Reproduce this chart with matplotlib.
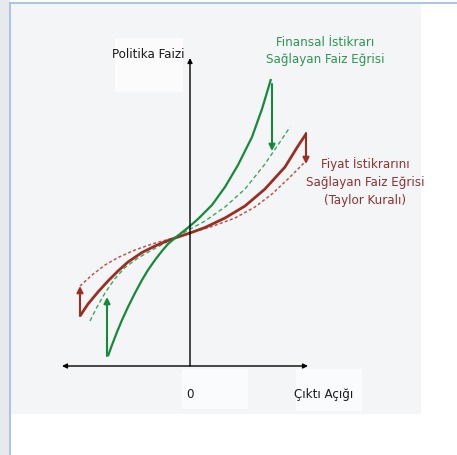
import matplotlib
matplotlib.use("Agg")
import matplotlib.pyplot as plt
from matplotlib.patches import Rectangle

# Data units: x = output gap, y = policy rate
green_x = [-8.2, -7.8, -7.3, -6.8, -6.2, -5.5, -4.8, -4.2, -3.5, -2.8, -2.2,
           -1.5, -0.5, 0.0, 0.8, 2.2, 3.5, 4.8, 6.2, 7.2, 8.1]
green_y = [1.0, 2.1, 3.4, 4.6, 5.9, 7.3, 8.6, 9.6, 10.6, 11.5, 12.2,
           12.8, 13.6, 14.0, 14.7, 16.1, 17.9, 20.1, 22.9, 25.7, 28.7]

green_dash_x = [-10.0, -9.3, -8.5, -7.5, -6.5, -5.2, -3.8, -2.5, -1.5, -0.5,
                1.5, 3.5, 5.5, 7.5, 9.2, 10.0]
green_dash_y = [4.5, 5.9, 7.3, 8.75, 9.85, 10.8, 11.6, 12.3, 12.85, 13.4,
                14.5, 15.9, 17.7, 20.2, 22.7, 23.9]

red_x = [-11.0, -10.2, -9.2, -8.2, -7.2, -6.2, -4.8, -3.5, -2.2, -1.5, 0.0,
         1.5, 3.5, 5.5, 7.5, 9.5, 10.8, 11.6]
red_y = [5.0, 6.2, 7.4, 8.5, 9.5, 10.4, 11.35, 12.0, 12.55, 12.8, 13.3,
         13.85, 14.8, 16.0, 17.7, 19.9, 22.0, 23.2]

red_dash_x = [-11.0, -9.8, -8.5, -7.2, -5.5, -3.8, -2.2, -1.5, 0.0, 2.2,
              4.5, 6.5, 8.2, 9.8, 11.5]
red_dash_y = [8.0, 9.1, 10.1, 10.85, 11.6, 12.2, 12.65, 12.85, 13.3, 13.95,
              14.8, 15.9, 17.2, 18.7, 20.4]

# shift arrows: (x, y_from, y_to)
green_arrows = [(8.2, 28.2, 21.5), (-8.3, 1.0, 6.9)]
red_arrows = [(11.6, 23.3, 20.2), (-11.0, 5.0, 8.0)]

x_axis_range = (-12.8, 11.8)
y_axis_top = 30.8

GREEN = "#17893a"
GREEN_DASH = "#3aa860"
RED = "#982f22"
RED_DASH = "#b8584c"
GREEN_TXT = "#2f9553"
RED_TXT = "#8a3434"
FONT = ["DejaVu Sans", "Liberation Sans"]
TXT = dict(family=FONT, fontstretch="condensed", fontsize=9.5,
           ha="center", va="center")

W, H = 457, 456
fig = plt.figure(figsize=(W / 100, H / 100), dpi=100)
fig.patch.set_facecolor("white")

# page background and frame, in pixel units (origin bottom-left)
bg = fig.add_axes([0, 0, 1, 1], zorder=0)
bg.set_xlim(0, W)
bg.set_ylim(0, H)
bg.axis("off")
for (x0, y0, w, h), col in [((0, 0, 10, H), "#e8e9ed"),
                            ((11, H - 415, 410, 410), "#f4f5f7"),
                            ((9, 0, 2, H - 3), "#a9c6e6"),
                            ((9, H - 5, W - 9, 2), "#a9c6e6"),
                            ((115, H - 93, 68, 54), "#fbfbfc"),
                            ((182, H - 410, 66, 40), "#fafbfc"),
                            ((296, H - 412, 66, 42), "#fafbfc")]:
    bg.add_patch(Rectangle((x0, y0), w, h, facecolor=col, edgecolor="none"))

ax = fig.add_axes([0, 0, 1, 1], zorder=1)
ax.set_xlim(-19.0, 26.7)
ax.set_ylim(-8.9, 36.7)
ax.axis("off")
ax.patch.set_alpha(0)

# axes
ax.annotate("", xy=(x_axis_range[0], 0), xytext=(x_axis_range[1], 0),
            arrowprops=dict(arrowstyle="<|-|>", color="black", lw=1.0,
                            mutation_scale=7, shrinkA=0, shrinkB=0))
ax.annotate("", xy=(0, y_axis_top), xytext=(0, 0),
            arrowprops=dict(arrowstyle="-|>", color="black", lw=1.0,
                            mutation_scale=7, shrinkA=0, shrinkB=0))

# curves
ax.plot(red_dash_x, red_dash_y, color=RED_DASH, lw=1.1, ls=(0, (2, 1.5)))
ax.plot(green_dash_x, green_dash_y, color=GREEN_DASH, lw=1.0, ls=(0, (3, 2)))
ax.plot(red_x, red_y, color=RED, lw=2.0, solid_capstyle="butt",
        solid_joinstyle="round")
ax.plot(green_x, green_y, color=GREEN, lw=1.6, solid_capstyle="butt",
        solid_joinstyle="round")

for arrows, col in [(green_arrows, GREEN), (red_arrows, RED)]:
    for x, y0, y1 in arrows:
        ax.annotate("", xy=(x, y1), xytext=(x, y0),
                    arrowprops=dict(arrowstyle="-|>", color=col, lw=1.5,
                                    mutation_scale=9, shrinkA=0, shrinkB=0))

# labels
ax.text(-4.2, 31.2, "Politika Faizi", color="#1a1a1a", **TXT)
ax.text(0, -2.8, "0", color="#1a1a1a", **TXT)
ax.text(13.4, -2.8, "Çıktı Açığı", color="#1a1a1a", **TXT)
ax.text(13.5, 31.6, "Finansal İstikrarı\nSağlayan Faiz Eğrisi",
        color=GREEN_TXT, linespacing=1.4, **TXT)
ax.text(17.5, 18.5, "Fiyat İstikrarını\nSağlayan Faiz Eğrisi\n(Taylor Kuralı)",
        color=RED_TXT, linespacing=1.5, **TXT)

fig.savefig("out.png", dpi=100)
